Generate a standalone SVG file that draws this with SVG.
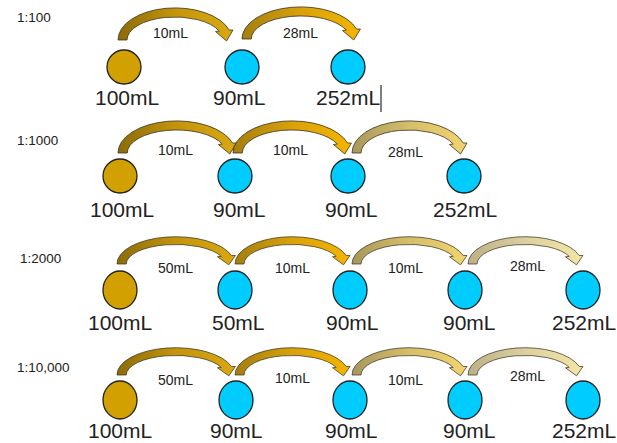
<svg xmlns="http://www.w3.org/2000/svg" width="617" height="443" viewBox="0 0 617 443">
<defs>
<linearGradient id="g1" x1="0" y1="0" x2="1" y2="0">
<stop offset="0" stop-color="#8C6B08"/><stop offset="0.5" stop-color="#C4950C"/><stop offset="1" stop-color="#D9A812"/>
</linearGradient>
<linearGradient id="g2" x1="0" y1="0" x2="1" y2="0">
<stop offset="0" stop-color="#A57E0E"/><stop offset="0.5" stop-color="#D9A20A"/><stop offset="1" stop-color="#F4B400"/>
</linearGradient>
<linearGradient id="g3" x1="0" y1="0" x2="1" y2="0">
<stop offset="0" stop-color="#A8975C"/><stop offset="0.5" stop-color="#D6BE6A"/><stop offset="1" stop-color="#F2D470"/>
</linearGradient>
<linearGradient id="g4" x1="0" y1="0" x2="1" y2="0">
<stop offset="0" stop-color="#BDB088"/><stop offset="0.5" stop-color="#DCD0A0"/><stop offset="1" stop-color="#F4E6A6"/>
</linearGradient>
<path id="arr" d="M0,0 A57,32 0 0 1 111.2,-10 L115,-10 L108.5,1 L97.5,-8.5 L101.2,-9 A48,23 0 0 0 9,0 Z"/>
</defs>
<style>
.rl{font-family:"Liberation Sans",Arial,sans-serif;font-size:13.5px;fill:#222}
.sl{font-family:"Liberation Sans",Arial,sans-serif;font-size:14px;fill:#222}
.bl{font-family:"Liberation Sans",Arial,sans-serif;font-size:21px;fill:#222}
.gold{fill:#D2A000;stroke:#222;stroke-width:1.3}
.blue{fill:#00CCFF;stroke:#222;stroke-width:1.3}
.a{stroke:#3a3320;stroke-width:0.8;vector-effect:non-scaling-stroke}
</style>
<rect width="617" height="443" fill="#fff"/>
<g id="connectors">
<use href="#arr" class="a" fill="url(#g1)" transform="translate(118,40)"/>
<use href="#arr" class="a" fill="url(#g2)" transform="translate(242,39) scale(1.03,1)"/>
<use href="#arr" class="a" fill="url(#g1)" transform="translate(118,153) scale(1.03,1)"/>
<use href="#arr" class="a" fill="url(#g2)" transform="translate(233,153) scale(1.03,1)"/>
<use href="#arr" class="a" fill="url(#g3)" transform="translate(352,153)"/>
<use href="#arr" class="a" fill="url(#g1)" transform="translate(117,264) scale(1.03,0.85)"/>
<use href="#arr" class="a" fill="url(#g2)" transform="translate(235,264) scale(1.0,0.85)"/>
<use href="#arr" class="a" fill="url(#g3)" transform="translate(352,264) scale(1.0,0.85)"/>
<use href="#arr" class="a" fill="url(#g4)" transform="translate(468,264) scale(1.0,0.85)"/>
<use href="#arr" class="a" fill="url(#g1)" transform="translate(117,375) scale(1.03,0.85)"/>
<use href="#arr" class="a" fill="url(#g2)" transform="translate(235,375) scale(1.0,0.85)"/>
<use href="#arr" class="a" fill="url(#g3)" transform="translate(352,375) scale(1.0,0.85)"/>
<use href="#arr" class="a" fill="url(#g4)" transform="translate(468,375) scale(1.0,0.85)"/>
</g>
<g id="labels">
<text class="rl" x="17" y="22">1:100</text>
<text class="rl" x="17" y="145">1:1000</text>
<text class="rl" x="20" y="263">1:2000</text>
<text class="rl" x="17" y="372">1:10,000</text>
<text class="sl" x="153" y="38">10mL</text>
<text class="sl" x="283" y="38">28mL</text>
<text class="sl" x="158" y="155">10mL</text>
<text class="sl" x="273" y="155">10mL</text>
<text class="sl" x="388" y="157">28mL</text>
<text class="sl" x="158" y="273">50mL</text>
<text class="sl" x="275" y="273">10mL</text>
<text class="sl" x="388" y="273">10mL</text>
<text class="sl" x="510" y="271">28mL</text>
<text class="sl" x="158" y="385">50mL</text>
<text class="sl" x="275" y="383">10mL</text>
<text class="sl" x="388" y="385">10mL</text>
<text class="sl" x="510" y="381">28mL</text>
</g>
<g id="row1">
<g id="r1n1"><circle class="gold" cx="124" cy="67" r="17"/><text class="bl" x="95" y="105">100mL</text></g>
<g id="r1n2"><circle class="blue" cx="242" cy="67" r="17"/><text class="bl" x="213" y="105">90mL</text></g>
<g id="r1n3"><circle class="blue" cx="348" cy="67" r="17"/><text class="bl" x="316" y="105">252mL</text><line x1="381" y1="85" x2="381" y2="112" stroke="#000" stroke-width="1"/></g>
</g>
<g id="row2">
<g id="r2n1"><circle class="gold" cx="120" cy="176" r="17"/><text class="bl" x="90" y="217">100mL</text></g>
<g id="r2n2"><circle class="blue" cx="235" cy="176" r="17"/><text class="bl" x="213" y="217">90mL</text></g>
<g id="r2n3"><circle class="blue" cx="348" cy="176" r="17"/><text class="bl" x="325" y="217">90mL</text></g>
<g id="r2n4"><circle class="blue" cx="464" cy="176" r="17"/><text class="bl" x="433" y="217">252mL</text></g>
</g>
<g id="row3">
<g id="r3n1"><ellipse class="gold" cx="120" cy="290" rx="17" ry="19"/><text class="bl" x="88" y="330">100mL</text></g>
<g id="r3n2"><ellipse class="blue" cx="235" cy="290" rx="17" ry="19"/><text class="bl" x="212" y="330">50mL</text></g>
<g id="r3n3"><ellipse class="blue" cx="350" cy="290" rx="17" ry="19"/><text class="bl" x="326" y="330">90mL</text></g>
<g id="r3n4"><ellipse class="blue" cx="465" cy="290" rx="17" ry="19"/><text class="bl" x="443" y="330">90mL</text></g>
<g id="r3n5"><ellipse class="blue" cx="583" cy="290" rx="17" ry="19"/><text class="bl" x="552" y="330">252mL</text></g>
</g>
<g id="row4">
<g id="r4n1"><ellipse class="gold" cx="120" cy="400" rx="17" ry="19"/><text class="bl" x="88" y="438">100mL</text></g>
<g id="r4n2"><ellipse class="blue" cx="236" cy="400" rx="17" ry="19"/><text class="bl" x="210" y="438">90mL</text></g>
<g id="r4n3"><ellipse class="blue" cx="350" cy="400" rx="17" ry="19"/><text class="bl" x="325" y="438">90mL</text></g>
<g id="r4n4"><ellipse class="blue" cx="465" cy="400" rx="17" ry="19"/><text class="bl" x="443" y="438">90mL</text></g>
<g id="r4n5"><ellipse class="blue" cx="583" cy="400" rx="17" ry="19"/><text class="bl" x="552" y="438">252mL</text></g>
</g>
</svg>
